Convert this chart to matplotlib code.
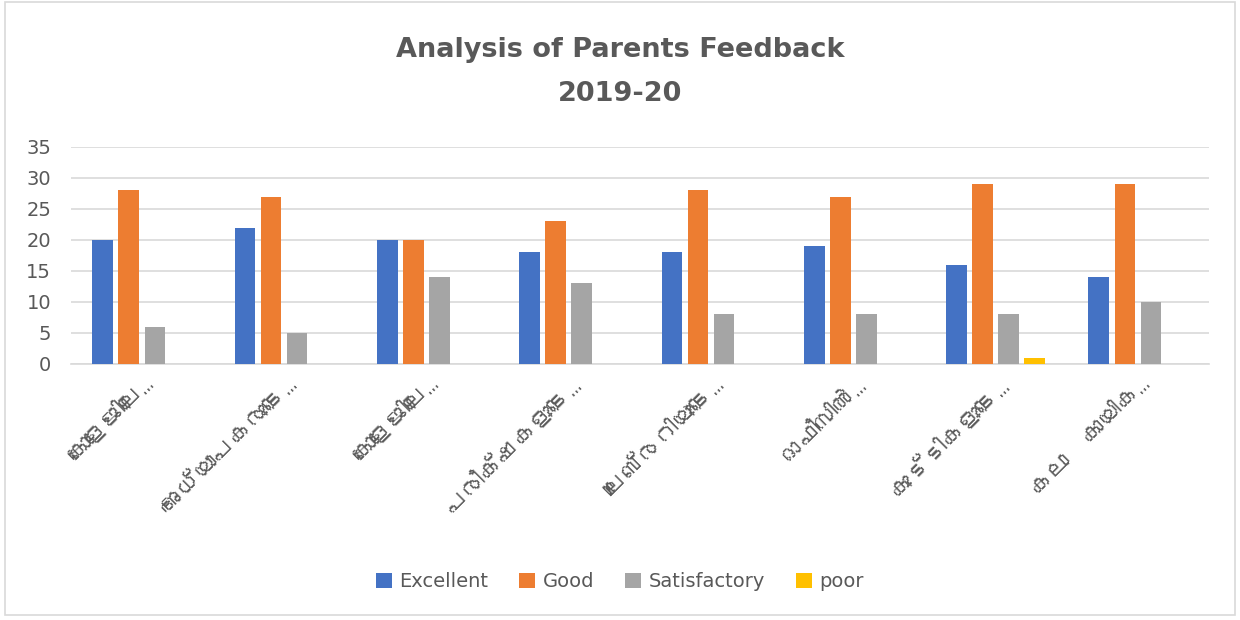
import matplotlib
matplotlib.use("Agg")
import matplotlib.pyplot as plt
from matplotlib import font_manager
from matplotlib.ft2font import FT2Font
import numpy as np

categories = ["കോളേജിലെ…", "അധ്യാപകരുടെ…", "കോളേജിലെ…", "പരീക്ഷകളുടെ…",
              "ലൈബ്രറിയുടെ…", "ഓഫീസിൽ…", "കുട്ടികളുടെ…", "കലാ  കായിക…"]
series = ["Excellent", "Good", "Satisfactory", "poor"]
excellent = [20, 22, 20, 18, 18, 19, 16, 14]
good = [28, 27, 20, 23, 28, 27, 29, 29]
satisfactory = [6, 5, 14, 13, 8, 8, 8, 10]
poor = [0, 0, 0, 0, 0, 0, 1, 0]
colors = ["#4472C4", "#ED7D31", "#A5A5A5", "#FFC000"]
textc = "#595959"

# look for any installed font that has Malayalam glyphs
ml_family = None
for f in font_manager.fontManager.ttflist:
    try:
        if 0x0D15 in FT2Font(f.fname).get_charmap():
            ml_family = f.name
            break
    except Exception:
        pass

fig = plt.figure(figsize=(12.4, 6.2), dpi=100)
ax = fig.add_axes([0.057, 0.413, 0.918, 0.35])

x = np.arange(len(categories))
w = 0.145
step = 0.183
for i, vals in enumerate([excellent, good, satisfactory, poor]):
    ax.bar(x + (i - 1.5) * step, vals, w, color=colors[i], label=series[i], zorder=3)

ax.set_xlim(-0.5, len(categories) - 0.5)
ax.set_ylim(0, 35)
ax.set_yticks(range(0, 36, 5))
ax.yaxis.grid(True, color="#D9D9D9", linewidth=1.2, zorder=0)
for s in ["top", "right", "left"]:
    ax.spines[s].set_visible(False)
ax.spines["bottom"].set_color("#D9D9D9")
ax.spines["bottom"].set_linewidth(1.2)
ax.tick_params(axis="both", length=0, labelsize=14, labelcolor=textc)
ax.tick_params(axis="y", pad=14)
ax.set_xticks(x)
fam = [ml_family, "DejaVu Sans"] if ml_family else ["DejaVu Sans"]
ax.set_xticklabels(categories, rotation=45, ha="right", rotation_mode="anchor",
                   family=fam, fontsize=17.5)
for lbl in ax.get_xticklabels():
    lbl.set_y(-0.025)

fig.text(0.5, 0.92, "Analysis of Parents Feedback", ha="center", va="center",
         fontsize=19.5, fontweight="bold", color=textc)
fig.text(0.5, 0.848, "2019-20", ha="center", va="center",
         fontsize=19.5, fontweight="bold", color=textc)

fig.legend(loc="center", bbox_to_anchor=(0.5, 0.062), ncol=4, frameon=False,
           fontsize=14, labelcolor=textc, handlelength=0.8, handleheight=0.8,
           columnspacing=1.6, handletextpad=0.4)

fig.add_artist(plt.Rectangle((0.004, 0.008), 0.992, 0.988, transform=fig.transFigure,
                             fill=False, edgecolor="#D9D9D9", linewidth=1.2))

fig.savefig("out.png", dpi=100, facecolor="white")
